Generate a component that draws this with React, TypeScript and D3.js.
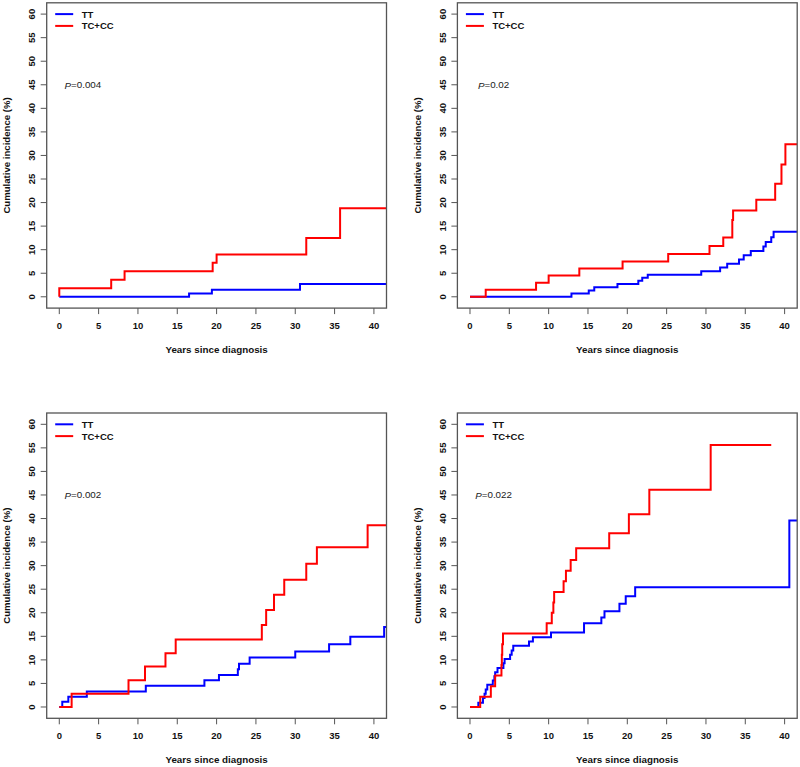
import React from "react";
import * as d3 from "d3";

const xTicks = [0, 5, 10, 15, 20, 25, 30, 35, 40];
const yTicks = [0, 5, 10, 15, 20, 25, 30, 35, 40, 45, 50, 55, 60];
const seriesNames = ["TT", "TC+CC"];
const seriesColors = ["#0000ff", "#ff0000"];
const pValues = ["0.004", "0.02", "0.002", "0.022"];

// Panel 1
const p1TTTimes = [0, 16.5, 19.4, 30.6];
const p1TTValues = [0, 0.7, 1.5, 2.7];
const p1TCTimes = [0, 0, 6.6, 8.3, 19.5, 20.0, 31.4, 35.7];
const p1TCValues = [0, 1.8, 3.6, 5.4, 7.2, 9.0, 12.5, 18.8];

// Panel 2
const p2TTTimes = [0, 12.9, 15.1, 15.8, 18.75, 21.4, 21.9, 22.6, 29.4, 31.8, 32.7, 34.2, 34.8, 35.7, 37.3, 37.6, 38.3, 38.6];
const p2TTValues = [0, 0.7, 1.35, 2.0, 2.7, 3.4, 4.05, 4.7, 5.4, 6.2, 7.0, 7.9, 8.8, 9.7, 10.7, 11.65, 12.65, 13.8];
const p2TCTimes = [0, 2.0, 8.4, 10.0, 13.9, 19.4, 25.2, 30.45, 32.2, 33.35, 33.45, 36.4, 38.8, 39.6, 40.1];
const p2TCValues = [0, 1.5, 3.0, 4.5, 6.0, 7.5, 9.1, 10.8, 12.6, 16.3, 18.3, 20.6, 24.0, 28.1, 32.4];

// Panel 3
const p3TTTimes = [0, 0.38, 1.15, 3.5, 11.0, 18.45, 20.3, 22.7, 22.85, 24.2, 30.0, 34.3, 37.0, 41.3];
const p3TTValues = [0, 1.1, 2.2, 3.3, 4.5, 5.7, 6.8, 8.0, 9.2, 10.5, 11.8, 13.3, 14.9, 17.0];
const p3TCTimes = [0, 1.57, 8.8, 10.9, 13.5, 14.8, 25.75, 26.3, 27.3, 28.6, 31.4, 32.75, 39.2];
const p3TCValues = [0, 2.8, 5.7, 8.6, 11.4, 14.3, 17.4, 20.6, 23.8, 27.0, 30.4, 33.9, 38.6];

// Panel 4
const p4TTTimes = [0, 1.06, 1.65, 1.85, 2.0, 2.2, 2.9, 3.1, 3.2, 3.5, 4.25, 4.4, 5.1, 5.3, 5.5, 7.5, 8.0, 10.3, 14.5, 16.7, 17.1, 19.0, 19.8, 21.0, 40.6];
const p4TTValues = [0, 0.9, 1.9, 2.8, 3.7, 4.7, 5.6, 6.5, 7.4, 8.3, 9.3, 10.2, 11.1, 12.0, 13.0, 13.9, 14.8, 15.8, 17.8, 19.0, 20.3, 21.9, 23.5, 25.4, 39.6];
const p4TCTimes = [0, 1.3, 2.65, 3.2, 4.0, 4.05, 4.1, 4.2, 9.75, 10.4, 10.6, 10.7, 11.9, 12.2, 12.8, 13.5, 17.7, 20.2, 22.8, 30.6];
const p4TCValues = [0, 2.2, 4.4, 6.7, 8.9, 11.1, 13.3, 15.6, 17.8, 20.0, 22.2, 24.4, 26.7, 28.9, 31.2, 33.7, 36.9, 40.9, 46.1, 55.6];

const endTimes = [
  [42, 42],
  [42, 42],
  [42, 42],
  [42, 38.3],
];

const panelSeries = [
  [[p1TTTimes, p1TTValues], [p1TCTimes, p1TCValues]],
  [[p2TTTimes, p2TTValues], [p2TCTimes, p2TCValues]],
  [[p3TTTimes, p3TTValues], [p3TCTimes, p3TCValues]],
  [[p4TTTimes, p4TTValues], [p4TCTimes, p4TCValues]],
];

const colLeft = [46.7, 457.4];
const rowTop = [2.8, 413.0];
const plotW = 339.8;
const plotH = 305.3;
const FONT = "'Liberation Sans', Arial, Helvetica, sans-serif";

function Panel({ idx }: { idx: number }) {
  const left = colLeft[idx % 2];
  const top = rowTop[Math.floor(idx / 2)];
  const x = d3.scaleLinear().domain([-1.6, 41.6]).range([0, plotW]);
  const y = d3.scaleLinear().domain([-2.4, 62.4]).range([plotH, 0]);
  const line = d3
    .line<[number, number]>()
    .x((d) => x(d[0]))
    .y((d) => y(d[1]))
    .curve(d3.curveStepAfter);
  const clipId = `clip-${idx}`;
  const axisColor = "#555";
  return (
    <g transform={`translate(${left},${top})`}>
      <defs>
        <clipPath id={clipId}>
          <rect x={0} y={0} width={plotW} height={plotH} />
        </clipPath>
      </defs>
      <g clipPath={`url(#${clipId})`}>
        {panelSeries[idx].map(([times, values], s) => {
          const pts: [number, number][] = times.map((t, i) => [t, values[i]]);
          pts.push([endTimes[idx][s], values[values.length - 1]]);
          return (
            <path
              key={s}
              d={line(pts) || ""}
              fill="none"
              stroke={seriesColors[s]}
              strokeWidth={2}
            />
          );
        })}
      </g>
      <rect x={0} y={0} width={plotW} height={plotH} fill="none" stroke={axisColor} strokeWidth={1.3} />
      {xTicks.map((t) => (
        <g key={t} transform={`translate(${x(t)},${plotH})`}>
          <line y1={0} y2={6} stroke={axisColor} strokeWidth={1} />
          <text
            y={17.5}
            textAnchor="middle"
            dominantBaseline="central"
            fontFamily={FONT}
            fontWeight="bold"
            fontSize={9.5}
            fill="#111"
          >
            {t}
          </text>
        </g>
      ))}
      {yTicks.map((v) => (
        <g key={v} transform={`translate(0,${y(v)})`}>
          <line x1={0} x2={-6} stroke={axisColor} strokeWidth={1} />
          <text
            transform="translate(-15,0) rotate(-90)"
            textAnchor="middle"
            dominantBaseline="central"
            fontFamily={FONT}
            fontWeight="bold"
            fontSize={9.5}
            fill="#111"
          >
            {v}
          </text>
        </g>
      ))}
      <text
        x={plotW / 2}
        y={plotH + 41}
        textAnchor="middle"
        dominantBaseline="central"
        fontFamily={FONT}
        fontWeight="bold"
        fontSize={9.8}
        fill="#111"
      >
        Years since diagnosis
      </text>
      <text
        transform={`translate(-40,${plotH / 2}) rotate(-90)`}
        textAnchor="middle"
        dominantBaseline="central"
        fontFamily={FONT}
        fontWeight="bold"
        fontSize={9.6}
        fill="#111"
      >
        Cumulative incidence (%)
      </text>
      {seriesNames.map((name, s) => (
        <g key={name} transform={`translate(0,${y(60) + s * 11.8})`}>
          <line x1={8.5} x2={26.5} stroke={seriesColors[s]} strokeWidth={2} />
          <text
            x={35}
            dominantBaseline="central"
            fontFamily={FONT}
            fontWeight="bold"
            fontSize={9.5}
            fill="#111"
          >
            {name}
          </text>
        </g>
      ))}
      <text
        x={x(3)}
        y={y(45)}
        textAnchor="middle"
        dominantBaseline="central"
        fontFamily={FONT}
        fontSize={9.8}
        fill="#222"
      >
        <tspan fontStyle="italic">P</tspan>
        {`=${pValues[idx]}`}
      </text>
    </g>
  );
}

export default function App() {
  return (
    <svg
      width={800}
      height={767}
      style={{ position: "absolute", left: 0, top: 0, background: "#fff" }}
    >
      <rect width={800} height={767} fill="#fff" />
      {[0, 1, 2, 3].map((i) => (
        <Panel key={i} idx={i} />
      ))}
    </svg>
  );
}
